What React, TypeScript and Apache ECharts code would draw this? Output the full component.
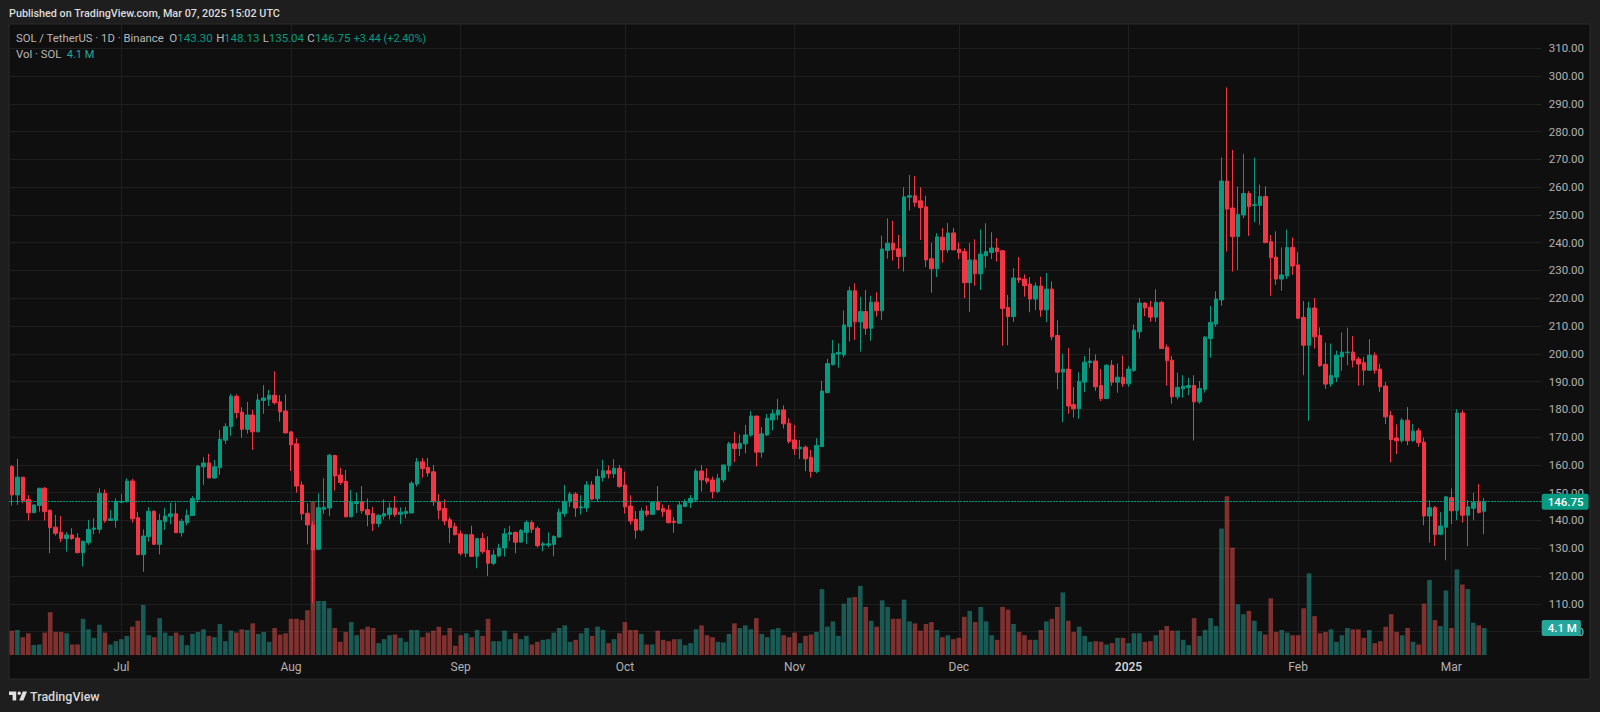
import React, { useEffect, useRef } from "react";
import * as echarts from "echarts";

const monthTicks: Record<number, string> = { 20: "Jul", 51: "Aug", 82: "Sep", 112: "Oct", 143: "Nov", 173: "Dec", 204: "2025", 235: "Feb", 263: "Mar" };
const priceTicks = { min: 100, max: 310, step: 10 };
const slotCount = 280;

const opens = [
159.4,149.2,155.6,147.6,142.8,145.4,151.6,143.7,137.6,135.8,
133.5,134.8,133.7,128.4,132,136.8,136.8,149.8,140,140,
146.6,146.9,154.2,141,127.7,134.2,143.3,131.4,139.6,141.4,
142.4,135.6,139.2,141.8,147.5,159.3,160.7,155.3,159,168.9,
173.8,184.7,179,172.8,178,171.9,183.2,183.6,185.1,182.7,
179.4,171.9,167.6,152.8,142.6,138.4,129.6,144,144.5,163.4,
156.4,154.1,141.3,146.1,146.8,143.9,142.5,138.9,141.6,142.1,
144.5,142.2,142.5,142.7,153.1,161.1,159.1,157.5,146.7,144.3,
140.3,137.9,135.2,128.2,134.9,127.1,133.5,129.2,124.6,127.3,
130.1,135,135.7,132.2,135.7,139.3,137.2,131.1,131.1,131.4,
134,142.5,146.7,149.5,144.5,144.5,152.8,147.8,155.4,157.9,
156.8,158.8,152.8,145.2,140.4,136.6,143.4,142.2,146.7,144.3,
143.8,139.7,139,145,146.5,147.4,157.8,155.2,154.6,150.4,
154.6,159.8,167.6,165.9,167.6,170.7,177.6,164.6,170.8,176.2,
178,179.8,175,169,165.8,166.4,162.8,157.6,166.6,186,
196.1,199.9,199.6,209.8,222.7,211.5,215.2,209.2,218.6,215.5,
237.2,239.8,237.8,235,256.4,256.9,255.1,252.9,234.2,230.6,
242,237.4,243.5,237.7,236.8,225.6,233.8,228.8,235.3,236.5,
238.1,237.1,216.7,213.4,227.3,226.9,225.1,219.7,224.4,215.8,
223.3,206.6,193.4,194.5,181.7,180.2,189.8,196.8,197.4,188.6,
183.9,195.9,189.8,191.6,189.2,194,207.9,218.3,216.8,213.2,
218.5,202.4,197.7,184.5,187.4,187.9,188.6,182.7,187.2,205.5,
210.7,219.4,262.2,252.5,242.2,250,257.7,253.4,253.4,256.6,
240.4,234.8,226.9,228,238.3,232,213.1,203.1,216.5,206.6,
196.2,189.1,191.6,198.9,200.4,200.6,198.1,196.8,194.1,199.5,
194.5,188.4,177.8,169.7,168.7,176.1,168.8,172.3,168.2,141.6,
144.6,135,137.6,148.2,143.5,178.7,141.9,144.4,146.6,143.3];

const closes = [
149.2,155.6,147.2,142.8,145.6,151.6,143.2,137.4,135.4,133.5,
134.8,133.5,128.4,132.5,136.8,137.3,149.8,140,140.6,146.9,
146.9,154.2,140.6,127.7,134.4,143.3,131.4,140,141.6,142.4,
135.6,139.7,141.9,147.9,159.6,160.7,155.3,159.3,169.2,173.8,
184.7,178.8,172.8,178,171.9,183.4,184.1,185.1,182.4,179.1,
171.5,167.2,152.4,142.4,138.4,129.4,144.6,144.8,163.5,156,
153.7,141.3,146.5,146.8,143.5,142.1,138.9,141.9,142.5,144.5,
142.1,143,143.3,153.4,161.1,158.7,157.1,146.7,143.7,139.8,
137.5,134.9,128.2,134.9,127.1,133.5,128.8,124.6,127.6,130.1,
135.2,135.7,132.2,136.4,139.3,136.8,130.9,131.6,131.6,134.3,
143,146.7,149.5,144.5,144.9,152.8,147.7,155.8,157.9,156.8,
158.8,152.2,144.9,139.8,136.5,143.4,142.2,146.6,143.8,143.1,
139.2,139.3,145.6,146.7,148,157.8,154.6,154.1,150.4,155.2,
160,167.6,165.9,167.8,170.8,177.6,164.6,171.2,176.8,178.4,
179.8,174.8,168.4,165.8,166.4,162.2,157.6,167,186.6,196.5,
200.1,200.5,210.4,222.7,211.5,215.2,209.2,218.6,215.5,237.7,
239.8,237.4,235,256.5,256.9,254.5,252.6,233.8,230.6,242.1,
237.4,243.5,237.4,236.4,225.6,233.8,228.8,235.9,236.8,238.1,
236.8,216.3,213.4,227.3,226.6,224.5,219.7,224.4,215.8,223.3,
206.1,193.4,194.5,181.2,180.2,190.1,197,197.4,188.1,183.9,
195.9,189.8,191.6,189.2,194.5,208.5,218.3,216.5,213.2,218.5,
201.9,197.5,184.5,187.9,188.3,188.6,182.7,187.5,206,211.3,
219.7,262.2,252.1,242.2,250.2,257.7,253,253.7,256.6,240,
234.6,226.9,228.4,238.3,231.6,212.8,203.1,216.5,206.1,195.7,
189.1,192.2,199.5,200.6,200.6,197.7,196.3,194.1,199.5,194.1,
188.1,177.3,169.1,168.7,176.1,168.7,172.2,168,141.6,144.6,
135,138,148.5,143.5,178.7,141.9,144.9,146.5,142.9,146.75];

const highs = [
160,162.2,155.6,149.1,145.8,151.6,152,143.9,142,141.6,
135.8,137.2,135.4,132.8,140.2,140.8,151.6,151.2,143.8,148,
149.6,155.2,155,143,136.8,144.8,143.7,142.4,144.6,146.4,
146.4,140.6,144,148.8,160,162.8,164,161.8,172.6,175,
185.6,185.4,180.8,182.7,179.8,185.6,188.8,187,193.7,185.1,
185.4,172,169.6,154.1,146.2,139.8,149.8,155.2,164,163.7,
159,158.2,151,150,152.4,147.9,144.9,142.2,147.6,146.4,
148.8,144.7,144.9,154.2,162.5,162.5,162.5,160,149.5,147.6,
141.3,139.2,136.4,135.2,138.1,133.5,135.6,134.3,129.5,131.6,
137.2,138.1,136.1,136.9,140.1,140,137.9,132.3,135.7,134.6,
144.3,152.8,150.3,150.2,149.1,154.2,154.2,158.5,161.9,159.8,
162.1,160,157.6,149.1,143.4,144.6,145.4,146.6,152.4,145.8,
145.6,141.2,146.8,147.6,149.2,158.6,160,158.8,155.8,156.8,
160,168.3,171.9,171,174.4,179.4,177.6,173.6,178.4,180,
183.8,181.4,176.8,174.4,169,167,165.4,169.6,190.3,198.2,
205,203.8,215.6,224.2,225.4,220.5,223,220.9,222.2,242.5,
248.8,247.9,242.8,260,264.4,264,260,256.9,240,243.4,
245.3,247.1,245.3,240.1,238,239.9,241.2,244.8,247,243.8,
241.7,237.4,221.2,230.9,234.8,228.6,227.6,225.7,227.8,229.1,
226.1,212.1,200.1,202.1,188,193.4,199.2,202.1,199.8,194.5,
196.2,197.7,196.5,199.4,195.6,210.6,220.1,218.5,219.1,223.3,
219.1,203.4,199.2,193.2,192.3,191.4,192.3,190.2,206.4,217.2,
222.5,270.7,295.9,273.4,260.2,272,258.6,270.6,260.9,260.3,
242.8,244.1,238.3,244.8,241.9,236.6,219,218.8,220.1,209.5,
204,203.7,201.1,207.7,209.4,206.4,198.9,198.9,205.3,200.5,
196.4,189.8,179.4,174.6,176.9,180.8,174.7,173.3,169.9,147.3,
145.2,143,148.8,151.5,180.1,179.7,147.3,150,153.1,148.13];

const lows = [
145.4,145.6,146.2,140,142.6,143.2,140,128.2,134.6,132.2,
128.8,133,128.4,123.4,131.2,135,135.4,139.2,140,137.4,
146.2,146.4,139.2,127.5,121.5,132.4,131.4,127.8,136.6,138.6,
135.6,134.2,138.2,141.8,146.4,152.8,155.3,155,156.4,167.6,
170.4,176.7,169.8,171.2,165.4,171.9,178.4,181.2,181.7,175.6,
171.5,157.8,150,140.2,131.4,110.3,129.4,142.4,141.6,150.7,
152.8,141.3,141.3,142.7,142.5,137.9,136.2,137.6,140.3,140.4,
141.3,138.7,140.8,142.7,152.2,155.4,155.8,145.2,140.4,138.3,
131.8,134.6,127.4,126.8,126.8,122.8,128,120,123.9,126.8,
127,132.6,128.2,132.2,131.5,135.5,130.3,128.9,130.3,127.1,
134,141.3,144.9,141.3,142.1,143.1,147.3,146.6,154,155.1,
155.3,151.8,142.5,138.5,133.5,136,141.4,142.2,143.8,141.3,
139,135.6,139,144.9,144.5,146.6,150.4,153.2,147.9,149.8,
153.6,157.6,161,163.2,164.2,170.2,159.4,162.6,170.4,172.4,
176.2,173.1,167.7,163.6,162.2,157.8,155.4,157,166.6,186,
195.8,195,198.7,204.4,205,200.8,206.8,204.7,213.4,212.2,
234.2,233.5,230.6,229.6,251.6,252.9,241,231.2,222,227.6,
232.8,236.4,237.4,234.1,220,215.1,224.5,223,230.9,234.1,
233.2,202.9,203.1,211.5,225.5,220.6,215,215.7,213.3,211.4,
204.9,187.2,175.4,178.4,177,176.6,186.2,195,186.6,183,
183.7,188.5,186,188.1,188.1,193.5,205.5,213.5,211.5,211.5,
201.9,188.5,182,183.6,184.2,185.1,168.8,182,186,198.6,
209.7,217.3,236.8,229.6,230.2,248.8,242.4,247.4,246.4,240,
220.9,224.8,222.7,226.9,228.4,212.8,192.3,175.9,201.9,195.3,
187.4,188.1,189.8,193.9,195.9,195.1,188.5,188.7,193.9,192.8,
186.3,174.7,160.9,163.9,168,167.1,168.3,166.5,138.3,132,
130.8,134.7,125.7,138.7,140.1,139.2,130.8,140.1,142.5,135.04];

const volumes = [
3.7,3.8,2.7,3.3,1.5,1.6,3.4,6.5,3.5,3.5,
3.3,1.6,1.6,5.5,3.9,2.6,4.6,3.4,1.6,2.1,
2.4,2.9,4.3,5.2,7.6,3.0,2.7,5.6,3.4,2.9,
3.4,3.0,1.5,3.2,3.5,3.9,2.9,2.7,4.7,2.1,
3.7,3.4,3.9,3.8,4.8,3.2,3.5,2.0,4.1,3.1,
3.3,5.5,5.5,5.3,6.8,23.3,8.2,8.2,7.1,4.1,
2.0,3.5,5.0,3.0,3.9,4.3,4.1,1.8,2.4,3.0,
3.1,2.6,2.0,3.8,3.8,2.7,3.4,3.7,4.3,3.0,
4.1,1.4,3.0,3.3,2.7,3.8,2.9,5.5,2.1,2.1,
3.7,2.4,3.3,2.4,2.9,1.6,2.0,2.3,2.4,3.4,
4.1,4.5,2.0,2.3,3.3,4.1,2.9,4.3,3.8,1.8,
2.4,3.3,5.0,3.8,3.8,3.2,1.6,1.6,3.7,2.3,
2.1,2.4,2.4,1.5,1.8,3.9,4.5,3.0,2.7,2.0,
1.9,3.2,4.8,4.1,4.5,3.9,5.6,3.2,2.7,3.9,
4.1,3.0,2.7,3.4,1.8,2.9,3.1,3.5,10.0,4.3,
5.1,2.9,7.8,8.7,8.8,10.5,7.3,5.2,4.3,8.3,
7.3,5.5,5.5,8.4,5.1,4.8,3.7,4.7,5.0,3.8,
2.7,3.0,2.4,2.6,5.8,6.7,5.0,7.3,5.1,3.0,
2.3,7.3,6.9,4.7,3.5,3.0,2.3,2.3,3.8,5.1,
5.5,7.3,9.5,5.2,3.5,4.3,2.9,2.0,2.1,2.0,
1.6,1.8,2.6,2.6,1.8,3.3,3.3,2.0,2.1,3.0,
3.8,4.4,3.7,3.7,2.3,1.5,5.6,2.9,3.8,5.6,
4.4,19.2,24.1,16.3,7.7,6.2,6.7,5.2,3.6,3.1,
8.6,3.5,3.8,3.4,3.0,3.0,7.1,12.4,5.9,3.3,
3.5,3.9,2.0,3.0,4.1,3.9,3.9,2.6,3.8,1.8,
2.1,4.3,6.2,3.5,3.0,4.1,2.0,1.6,7.8,11.4,
5.3,4.4,9.8,4.1,13.0,10.7,10.0,4.9,4.5,4.1];

const lastPrice = 146.75;
const lastVolume = 4.1;
const UP = "#089981";
const DOWN = "#F23645";
const VOL_UP = "rgba(38,166,154,0.5)";
const VOL_DOWN = "rgba(239,83,80,0.5)";
const GRID_LINE = "#1f1f1f";
const FONT = "Roboto, 'Noto Sans', sans-serif";

const logoPath = "M14 6H2v6h6v9h6V6Zm12 15h-7l6-15h7l-6 15Zm-7-9a3 3 0 1 0 0-6 3 3 0 0 0 0 6Z";
echarts.graphic.registerShape("tvlogo", echarts.graphic.extendPath(logoPath, {}) as any);

function headerText(x: number, y: number, text: string, fill: string, size = 11.5, weight: any = 400, z = 20) {
  return { type: "text", x, y, z, style: { text, fill, font: `${weight} ${size}px ${FONT}`, textVerticalAlign: "middle" } };
}

export default function App() {
  const ref = useRef<HTMLDivElement>(null);
  useEffect(() => {
    document.body.style.margin = "0";
    document.body.style.background = "#1e1e1e";
    const chart = echarts.init(ref.current!, undefined, { renderer: "svg" });
    const slots = Array.from({ length: slotCount }, (_, i) => monthTicks[i] ?? String(i));
    const isTick = (i: number) => monthTicks[i] !== undefined;
    const candles = opens.map((o, i) => [o, closes[i], lows[i], highs[i]]);
    const bars = volumes.map((v, i) => ({
      value: v,
      itemStyle: { color: closes[i] >= opens[i] ? VOL_UP : VOL_DOWN },
    }));
    chart.setOption({
      animation: false,
      backgroundColor: "#1e1e1e",
      textStyle: { fontFamily: FONT },
      grid: [
        { left: 9.16, width: 1532.54, top: 48.24, height: 583.36 },
        { left: 9.16, width: 1532.54, top: 24, height: 631 },
      ],
      xAxis: [
        { type: "category", gridIndex: 0, data: slots, show: false },
        {
          type: "category", gridIndex: 1, data: slots,
          axisLine: { show: false }, axisTick: { show: false },
          axisLabel: {
            interval: (i: number) => isTick(i), color: "#b2b2b2", fontSize: 12, margin: 6, hideOverlap: false,
            formatter: (v: string) => (v === "2025" ? "{y|2025}" : v),
            rich: { y: { color: "#dcdcdc", fontSize: 12, fontWeight: 500 } },
          },
          splitLine: { show: true, alignWithLabel: true, interval: (i: number) => isTick(i), lineStyle: { color: GRID_LINE, width: 1 } },
        },
      ],
      yAxis: [
        {
          type: "value", gridIndex: 0, position: "right", min: priceTicks.min, max: priceTicks.max, interval: priceTicks.step,
          axisLine: { show: false }, axisTick: { show: false },
          axisLabel: { color: "#b2b2b2", fontSize: 11.5, margin: 7, formatter: (v: number) => v.toFixed(2) },
          splitLine: { show: true, lineStyle: { color: GRID_LINE, width: 1 } },
        },
        { type: "value", gridIndex: 1, min: 0, max: 95.8, show: false },
      ],
      series: [
        {
          type: "bar", name: "Vol", xAxisIndex: 1, yAxisIndex: 1, data: bars, barWidth: 4.6, z: 2, silent: true,
          markLine: {
            silent: true, symbol: "none", z: 6, animation: false,
            lineStyle: { color: "rgba(0,0,0,0)", width: 0 },
            label: {
              show: true, position: "end", distance: 0, formatter: "4.1 M", color: "#fff", fontSize: 11.5, fontWeight: 500,
              backgroundColor: "#26a69a", padding: [2, 4, 2, 6], borderRadius: 2, lineHeight: 12,
            },
            data: [{ yAxis: lastVolume }],
          },
        },
        {
          type: "candlestick", name: "SOL", xAxisIndex: 0, yAxisIndex: 0, data: candles, barWidth: 4, z: 4, silent: true,
          itemStyle: { color: UP, color0: DOWN, borderColor: UP, borderColor0: DOWN, borderWidth: 1 },
          markLine: {
            silent: true, symbol: "none", z: 5, animation: false,
            lineStyle: { color: UP, type: [2, 1], width: 1, opacity: 1 },
            label: {
              show: true, position: "end", distance: 0, formatter: lastPrice.toFixed(2), color: "#fff", fontSize: 11.5, fontWeight: 500,
              backgroundColor: UP, padding: [2, 5, 2, 6], borderRadius: 2, lineHeight: 12,
            },
            data: [{ yAxis: lastPrice }],
          },
        },
      ],
      graphic: [
        { type: "rect", z: -1, shape: { x: 9, y: 24, width: 1581, height: 655 }, style: { fill: "#0f0f0f", stroke: "#2a2a2a", lineWidth: 1 } },
        headerText(9, 13, "Published on TradingView.com, Mar 07, 2025 15:02 UTC", "#dcdcdc", 10.8, 500),
        headerText(16, 38, "SOL / TetherUS · 1D · Binance", "#b8b8b8", 11.3),
        headerText(169.3, 38, "O", "#b8b8b8"),
        headerText(177.3, 38, "143.30", UP),
        headerText(216.3, 38, "H", "#b8b8b8"),
        headerText(224, 38, "148.13", UP),
        headerText(262.7, 38, "L", "#b8b8b8"),
        headerText(268.7, 38, "135.04", UP),
        headerText(307.3, 38, "C", "#b8b8b8"),
        headerText(315, 38, "146.75", UP),
        headerText(353.7, 38, "+3.44 (+2.40%)", UP, 10.8),
        headerText(16, 54, "Vol · SOL", "#b8b8b8", 11.3),
        headerText(66.7, 54, "4.1 M", "#26a69a", 11),
        { type: "tvlogo", x: 7.8, y: 687.9, scaleX: 0.6, scaleY: 0.6, z: 20, style: { fill: "#e0e0e0" } },
        headerText(30, 696, "TradingView", "#d8d8d8", 12.5, 500),
      ],
    });
    return () => chart.dispose();
  }, []);
  return <div ref={ref} style={{ position: "absolute", left: 0, top: 0, width: 1600, height: 712 }} />;
}
